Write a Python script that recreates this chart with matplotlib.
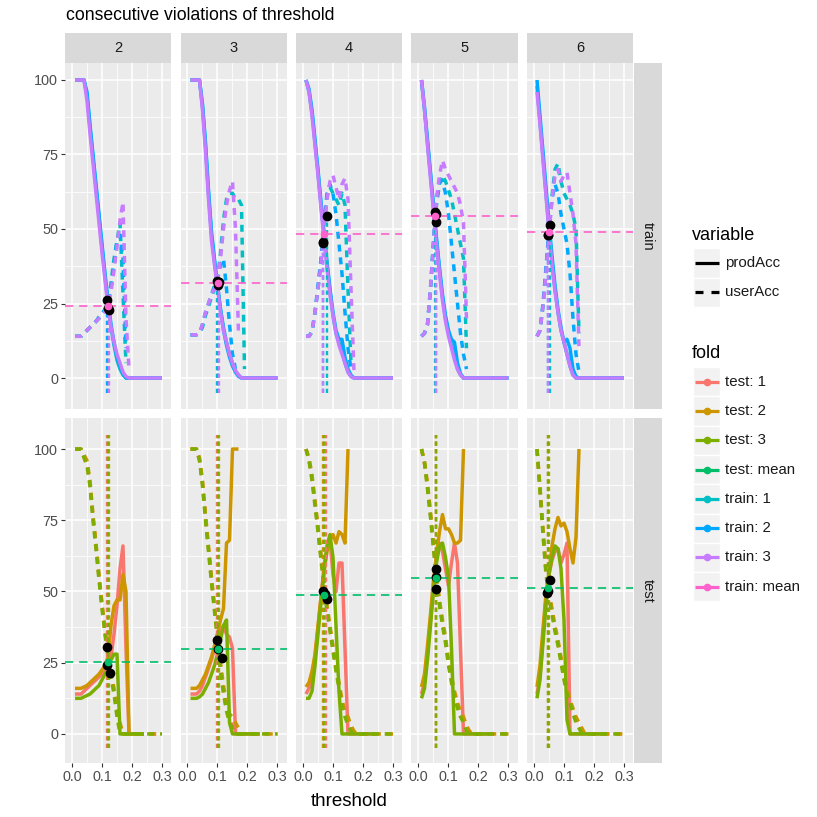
import matplotlib
matplotlib.use("Agg")
import matplotlib.pyplot as plt
from matplotlib.patches import Rectangle

plt.rcParams["font.family"] = ["Liberation Sans", "DejaVu Sans"]

# threshold grid (x), facet columns = consecutive violations
THRESH = [0.01, 0.02, 0.03, 0.04, 0.05, 0.06, 0.07, 0.08, 0.09, 0.10,
          0.11, 0.12, 0.13, 0.14, 0.15, 0.16, 0.17, 0.18, 0.19, 0.20,
          0.21, 0.22, 0.23, 0.24, 0.25, 0.26, 0.27, 0.28, 0.29, 0.30]
KS = ["2", "3", "4", "5", "6"]

FOLD_NAMES = ["test: 1", "test: 2", "test: 3", "test: mean",
              "train: 1", "train: 2", "train: 3", "train: mean"]
FOLD_COLORS = ["#F8766D", "#CD9600", "#7CAE00", "#00BE67",
               "#00BFC4", "#00A9FF", "#C77CFF", "#FF61CC"]

# ---- train row: prodAcc (one list per facet k=2..6) ----
train_prod_f1 = [
    [100, 100, 100, 100, 95, 84, 74, 64, 54, 44, 34, 25, 17, 11, 6, 3, 1, 0, 0, 0, 0, 0, 0, 0, 0, 0, 0, 0, 0, 0],
    [100, 100, 100, 100, 91, 78, 62, 48, 39, 31, 23, 17, 12, 8, 5, 2, 1, 0, 0, 0, 0, 0, 0, 0, 0, 0, 0, 0, 0, 0],
    [100, 96, 89, 79, 69, 58, 48, 38, 29, 21, 15, 12, 9, 5, 2, 0.5, 0, 0, 0, 0, 0, 0, 0, 0, 0, 0, 0, 0, 0, 0],
    [100, 90, 79, 68, 57, 46, 36, 27, 20, 15, 11, 7, 3, 1, 0, 0, 0, 0, 0, 0, 0, 0, 0, 0, 0, 0, 0, 0, 0, 0],
    [98, 86, 74, 62, 50, 39, 30, 22, 16, 12, 8, 4, 1, 0, 0, 0, 0, 0, 0, 0, 0, 0, 0, 0, 0, 0, 0, 0, 0, 0],
]
train_prod_f2 = [
    [100, 100, 100, 100, 96, 85, 75, 65, 55, 45, 35, 26, 18, 12, 7, 4, 1.5, 0, 0, 0, 0, 0, 0, 0, 0, 0, 0, 0, 0, 0],
    [100, 100, 100, 100, 92, 79, 63, 49, 40, 31, 23, 16, 11, 7, 4, 2, 0.5, 0, 0, 0, 0, 0, 0, 0, 0, 0, 0, 0, 0, 0],
    [100, 97, 90, 80, 70, 59, 49, 39, 30, 22, 16, 13, 13, 7, 3, 1, 0, 0, 0, 0, 0, 0, 0, 0, 0, 0, 0, 0, 0, 0],
    [100, 91, 80, 69, 58, 47, 37, 28, 21, 16, 13, 12, 5, 1.5, 0, 0, 0, 0, 0, 0, 0, 0, 0, 0, 0, 0, 0, 0, 0, 0],
    [100, 88, 76, 64, 52, 41, 31, 23, 17, 12, 13, 10, 3, 0.5, 0, 0, 0, 0, 0, 0, 0, 0, 0, 0, 0, 0, 0, 0, 0, 0],
]
train_prod_f3 = [
    [100, 100, 100, 100, 93, 82, 72, 62, 52, 42, 33, 24, 17, 12, 8, 5, 2, 0.5, 0, 0, 0, 0, 0, 0, 0, 0, 0, 0, 0, 0],
    [100, 100, 100, 100, 90, 76, 60, 46, 38, 30, 22, 16, 12, 8, 5, 2.5, 1, 0, 0, 0, 0, 0, 0, 0, 0, 0, 0, 0, 0, 0],
    [100, 96, 88, 78, 68, 57, 47, 37, 28, 21, 15, 11, 8, 5, 2, 0.5, 0, 0, 0, 0, 0, 0, 0, 0, 0, 0, 0, 0, 0, 0],
    [100, 90, 78, 67, 56, 45, 35, 26, 19, 14, 10, 6, 3, 1, 0, 0, 0, 0, 0, 0, 0, 0, 0, 0, 0, 0, 0, 0, 0, 0],
    [96, 85, 73, 61, 49, 38, 29, 22, 16, 12, 8, 4, 1, 0, 0, 0, 0, 0, 0, 0, 0, 0, 0, 0, 0, 0, 0, 0, 0, 0],
]
# ---- train row: userAcc (series stop where it is undefined) ----
train_user_f1 = [
    [14, 14, 14, 15, 16, 17, 18, 19, 20, 21.5, 23, 25, 32, 40, 46, 52, 28, 5],
    [14.5, 14.5, 14.5, 15, 17, 21, 24, 27, 30, 33, 42, 53, 60, 62, 62, 60, 60, 58, 3],
    [14, 14, 15.5, 22, 30, 39, 51, 61, 64, 62, 60, 58, 62, 58, 30, 5],
    [14, 15, 18, 30, 45, 58, 65, 68, 66, 63, 60, 55, 50, 45, 40, 10],
    [14, 16, 24, 36, 49, 61, 70, 72, 66, 62, 60, 58, 55, 50, 15],
]
train_user_f2 = [
    [14, 14, 14, 15, 16, 17, 18, 19, 20.5, 21.5, 23, 25, 30, 38, 46, 48, 40, 10],
    [14.5, 14.5, 14.5, 15, 18, 22, 25, 28, 31, 33, 38, 40, 30, 18, 8, 3],
    [14, 14, 15.5, 22, 31, 40, 52, 62, 65, 62, 55, 45, 35, 22, 10, 3],
    [14, 15, 18, 30, 46, 60, 66, 66, 62, 55, 45, 35, 25, 15, 8, 3],
    [14, 16, 25, 37, 50, 60, 65, 62, 55, 50, 45, 35, 20, 8, 2],
]
train_user_f3 = [
    [14, 14, 14, 15, 16, 17, 18, 19, 20, 21, 22.5, 24, 29, 36, 44, 53, 59, 20, 3],
    [14.5, 14.5, 14.5, 15, 18, 22, 25, 28, 30, 32, 40, 50, 58, 63, 66, 50, 15],
    [14, 14, 15.5, 22, 30, 38, 50, 60, 66, 68, 64, 60, 65, 67, 60, 30, 2],
    [14, 15, 18, 30, 45, 60, 68, 73, 70, 68, 66, 64, 62, 58, 52, 20],
    [14, 16, 24, 35, 48, 60, 68, 70, 66, 68, 69, 62, 55, 45, 10],
]

# ---- test row: prodAcc ----
test_prod_f1 = [
    [14, 14, 14, 15, 16, 17, 18, 19, 20, 21, 22, 24, 27, 35, 45, 58, 66, 30, 0, 0, 0, 0, 0, 0],
    [14, 14, 14, 15, 17, 20, 23, 26, 30, 33, 36, 38, 35, 34, 30, 0, 0, 0, 0, 0, 0, 0, 0, 0],
    [14, 16, 20, 27, 37, 48, 58, 65, 68, 56, 50, 60, 60, 30, 0, 0, 0, 0, 0, 0, 0, 0, 0, 0],
    [14, 18, 28, 40, 52, 62, 67, 64, 58, 52, 60, 67, 60, 30, 0, 0, 0, 0, 0, 0, 0, 0, 0, 0],
    [14, 20, 34, 48, 56, 61, 64, 65, 60, 63, 67, 0, 0, 0, 0, 0, 0, 0, 0, 0, 0, 0, 0, 0],
]
test_prod_f2 = [
    [16, 16, 16, 16.5, 17, 18, 19, 20, 21, 22.5, 24, 27, 38, 45, 47, 47, 56, 50, 0, 0, 0, 0, 0, 0],
    [16, 16, 16, 17, 19, 21, 24, 27, 31, 35, 40, 44, 67, 68, 100, 100, 100],
    [16.5, 18, 22, 28, 38, 48, 57, 64, 68, 70, 67, 71, 70, 67, 100],
    [16.5, 21, 31, 42, 54, 63, 71, 77, 72, 72, 70, 67, 67, 68, 100],
    [16.5, 24, 37, 49, 57, 66, 72, 76, 73, 74, 71, 65, 60, 69, 100],
]
test_prod_f3 = [
    [12.5, 12.5, 12.5, 13, 13.5, 14, 15, 16, 17, 19, 21, 23, 26, 28, 28, 0, 0, 0, 0, 0, 0, 0, 0, 0],
    [12.5, 12.5, 12.5, 13, 14, 16, 18, 21, 24, 28, 33, 38, 40, 4, 0, 0, 0, 0, 0, 0, 0, 0, 0, 0],
    [12.5, 12.5, 15, 24, 35, 46, 57, 66, 70, 62, 38, 15, 0, 0, 0, 0, 0, 0, 0, 0, 0, 0, 0, 0],
    [12.5, 16, 26, 38, 50, 60, 66, 67, 62, 55, 30, 0, 0, 0, 0, 0, 0, 0, 0, 0, 0, 0, 0, 0],
    [12.5, 19, 32, 45, 56, 62, 66, 65, 58, 40, 5, 0, 0, 0, 0, 0, 0, 0, 0, 0, 0, 0, 0, 0],
]
# ---- test row: userAcc ----
test_user_f1 = [
    [100, 100, 100, 97, 95, 88, 76, 66, 55, 45, 36, 28, 21, 15, 8, 2, 0, 0, 0, 0, 0, 0, 0, 0, 0, 0, 0, 0, 0, 0],
    [100, 100, 100, 96, 88, 76, 65, 54, 44, 34, 23, 15, 9, 5, 3, 1, 0, 0, 0, 0, 0, 0, 0, 0, 0, 0, 0, 0, 0, 0],
    [100, 96, 90, 81, 72, 62, 53, 44, 37, 30, 23, 17, 11, 7, 5, 2, 0, 0, 0, 0, 0, 0, 0, 0, 0, 0, 0, 0, 0, 0],
    [100, 95, 87, 77, 66, 55, 46, 39, 33, 25, 19, 14, 10, 7, 5, 2, 0, 0, 0, 0, 0, 0, 0, 0, 0, 0, 0, 0, 0, 0],
    [100, 86, 71, 57, 49, 43, 37, 32, 26, 20, 15, 11, 8, 5, 3, 1, 0, 0, 0, 0, 0, 0, 0, 0, 0, 0, 0, 0, 0, 0],
]
test_user_f2 = [
    [100, 100, 100, 98, 96, 89, 77, 67, 56, 46, 37, 29, 22, 16, 10, 4, 0, 0, 0, 0, 0, 0, 0, 0, 0, 0, 0, 0, 0, 0],
    [100, 100, 100, 97, 89, 77, 66, 55, 45, 35, 25, 17, 11, 7, 6, 4, 2, 0, 0, 0, 0, 0, 0, 0, 0, 0, 0, 0, 0, 0],
    [100, 97, 91, 82, 73, 63, 54, 45, 38, 31, 24, 18, 12, 8, 6, 3, 1, 0, 0, 0, 0, 0, 0, 0, 0, 0, 0, 0, 0, 0],
    [100, 96, 88, 78, 67, 56, 47, 40, 34, 26, 20, 15, 11, 8, 6, 3, 1, 0, 0, 0, 0, 0, 0, 0, 0, 0, 0, 0, 0, 0],
    [100, 87, 72, 58, 50, 44, 38, 33, 27, 21, 16, 12, 9, 6, 4, 2, 0, 0, 0, 0, 0, 0, 0, 0, 0, 0, 0, 0, 0, 0],
]
test_user_f3 = [
    [100, 100, 100, 97, 94, 87, 75, 65, 54, 44, 35, 27, 20, 14, 6, 0, 0, 0, 0, 0, 0, 0, 0, 0, 0, 0, 0, 0, 0, 0],
    [100, 100, 100, 96, 87, 75, 64, 53, 43, 33, 22, 14, 8, 4, 2, 0, 0, 0, 0, 0, 0, 0, 0, 0, 0, 0, 0, 0, 0, 0],
    [100, 96, 89, 80, 71, 61, 52, 43, 36, 29, 22, 16, 10, 6, 3, 1, 0, 0, 0, 0, 0, 0, 0, 0, 0, 0, 0, 0, 0, 0],
    [100, 95, 86, 76, 65, 54, 45, 38, 32, 24, 18, 13, 9, 6, 4, 1, 0, 0, 0, 0, 0, 0, 0, 0, 0, 0, 0, 0, 0, 0],
    [100, 85, 70, 56, 48, 42, 36, 31, 25, 19, 14, 11, 7, 4, 2, 0, 0, 0, 0, 0, 0, 0, 0, 0, 0, 0, 0, 0, 0, 0],
]

# chosen thresholds (per fold) and accuracy at that threshold (black points)
train_cut = [[0.120, 0.100, 0.079, 0.055, 0.053],
             [0.118, 0.103, 0.068, 0.057, 0.048],
             [0.123, 0.105, 0.068, 0.057, 0.048]]
train_pt = [[23.5, 32.5, 54.5, 55.8, 51.3],
            [26.2, 31.2, 45.5, 52.5, 48.0],
            [22.8, 32.3, 45.2, 54.9, 48.0]]
train_mean_x = [0.120, 0.103, 0.070, 0.056, 0.050]
train_mean_y = [24.0, 32.0, 48.3, 54.4, 49.1]

test_cut = [[0.118, 0.100, 0.077, 0.057, 0.046],
            [0.123, 0.104, 0.068, 0.059, 0.050],
            [0.120, 0.102, 0.070, 0.057, 0.048]]
test_pt_x = [[0.118, 0.100, 0.068, 0.057, 0.053],
             [0.128, 0.114, 0.079, 0.057, 0.043],
             [0.118, 0.103, 0.072, 0.057, 0.048]]
test_pt_y = [[30.6, 33.0, 50.0, 57.8, 54.0],
             [21.3, 26.5, 47.2, 50.9, 49.4],
             [24.2, 29.7, 49.2, 55.0, 50.2]]
test_mean_x = [0.120, 0.103, 0.071, 0.057, 0.048]
test_mean_y = [25.4, 29.8, 48.8, 54.6, 51.2]

W = H = 817.0
fig = plt.figure(figsize=(8.17, 8.17), dpi=100)


def box(x0, y0, w, h):
    return [x0 / W, 1 - (y0 + h) / H, w / W, h / H]


COL_LEFT = [65, 180.5, 296, 411.5, 527]
PAN_W = 106
ROWS = [("train", 63, 346, (-10.4, 105.7)), ("test", 418, 345, (-10.2, 110.9))]
LW = 2.5
DASH = (2.0, 1.7)

for j, k in enumerate(KS):
    for r, (row, y0, h, ylim) in enumerate(ROWS):
        ax = fig.add_axes(box(COL_LEFT[j], y0, PAN_W, h))
        ax.set_facecolor("#EBEBEB")
        ax.set_xlim(-0.0233, 0.33); ax.set_ylim(*ylim)
        ax.set_xticks([0, 0.1, 0.2, 0.3]); ax.set_xticks([0.05, 0.15, 0.25], minor=True)
        ax.set_xticklabels(["0.0", "0.1", "0.2", "0.3"])
        ax.set_yticks([0, 25, 50, 75, 100]); ax.set_yticks([12.5, 37.5, 62.5, 87.5], minor=True)
        ax.grid(which="major", color="white", lw=1.1)
        ax.grid(which="minor", color="white", lw=0.55)
        ax.set_axisbelow(True)
        for s in ax.spines.values():
            s.set_visible(False)
        ax.tick_params(which="minor", length=0)
        ax.tick_params(which="major", length=2.9, width=0.8, color="#333333",
                       labelsize=10.4, labelcolor="#4D4D4D", pad=2)
        if j != 0:
            ax.tick_params(axis="y", left=False, labelleft=False)
        if r == 0:
            ax.tick_params(axis="x", bottom=False, labelbottom=False)

        if row == "train":
            prods = [train_prod_f1, train_prod_f2, train_prod_f3]
            users = [train_user_f1, train_user_f2, train_user_f3]
            cols = FOLD_COLORS[4:7]; mcol = FOLD_COLORS[7]
        else:
            prods = [test_prod_f1, test_prod_f2, test_prod_f3]
            users = [test_user_f1, test_user_f2, test_user_f3]
            cols = FOLD_COLORS[0:3]; mcol = FOLD_COLORS[3]

        for f in range(3):
            p = prods[f][j]; u = users[f][j]
            ax.plot(THRESH[:len(p)], p, color=cols[f], lw=LW, solid_capstyle="butt")
            ax.plot(THRESH[:len(u)], u, color=cols[f], lw=LW, dashes=DASH)

        for f in range(3):
            if row == "train":
                ax.plot([train_cut[f][j]] * 2, [-5, train_pt[f][j]], color=cols[f],
                        lw=1.7, dashes=(1.8, 1.4))
            else:
                ax.plot([test_cut[f][j]] * 2, [-5, 105], color=cols[f], lw=1.7, dashes=(1.8, 1.4))

        my = train_mean_y[j] if row == "train" else test_mean_y[j]
        ax.axhline(my, color=mcol, lw=1.2, dashes=(5, 3.5))

        for f in range(3):
            if row == "train":
                ax.plot(train_cut[f][j], train_pt[f][j], "o", color="black", ms=6)
            else:
                ax.plot(test_pt_x[f][j], test_pt_y[f][j], "o", color="black", ms=6)
        mx = train_mean_x[j] if row == "train" else test_mean_x[j]
        ax.plot(mx, my, "o", color=mcol, ms=4.5)

    # top strip
    st = fig.add_axes(box(COL_LEFT[j], 33, PAN_W, 30))
    st.set_facecolor("#D9D9D9"); st.set_xticks([]); st.set_yticks([])
    for s in st.spines.values():
        s.set_visible(False)
    st.text(0.5, 0.5, k, ha="center", va="center", fontsize=10.5, color="#1A1A1A",
            transform=st.transAxes)

for row, y0, h, _ in ROWS:
    st = fig.add_axes(box(634, y0, 28, h))
    st.set_facecolor("#D9D9D9"); st.set_xticks([]); st.set_yticks([])
    for s in st.spines.values():
        s.set_visible(False)
    st.text(0.5, 0.5, row, ha="center", va="center", rotation=-90, fontsize=10.5,
            color="#1A1A1A", transform=st.transAxes)

# overlay in pixel coordinates: titles and legends
ov = fig.add_axes([0, 0, 1, 1])
ov.set_xlim(0, W); ov.set_ylim(H, 0); ov.axis("off")
ov.text(66, 15, "consecutive violations of threshold", fontsize=12.7, va="center", ha="left")
ov.text(349, 802, "threshold", fontsize=13.5, va="center", ha="center")

ov.text(692, 235, "variable", fontsize=13, va="center", ha="left")
for i, (lab, ls) in enumerate([("prodAcc", "-"), ("userAcc", (0, (2.5, 2.5)))]):
    yk = 248 + 29.5 * i
    ov.add_patch(Rectangle((693, yk), 27, 29.5, facecolor="#F2F2F2", edgecolor="white", lw=1))
    ov.plot([695, 719], [yk + 14.75] * 2, color="black", lw=2.3, linestyle=ls,
            solid_capstyle="butt", dash_capstyle="butt")
    ov.text(725, yk + 14.75, lab, fontsize=10.8, va="center", ha="left", color="#1A1A1A")

ov.text(692, 353, "fold", fontsize=13, va="center", ha="left")
for i, (lab, c) in enumerate(zip(FOLD_NAMES, FOLD_COLORS)):
    yk = 367 + 29.3 * i
    ov.add_patch(Rectangle((693, yk), 27, 29.3, facecolor="#F2F2F2", edgecolor="white", lw=1))
    ov.plot([695, 719], [yk + 14.65] * 2, color=c, lw=2.3, solid_capstyle="butt")
    ov.plot(707, yk + 14.65, "o", color=c, ms=4.5)
    ov.text(725, yk + 14.65, lab, fontsize=10.8, va="center", ha="left", color="#1A1A1A")

fig.savefig("out.png", dpi=100)
